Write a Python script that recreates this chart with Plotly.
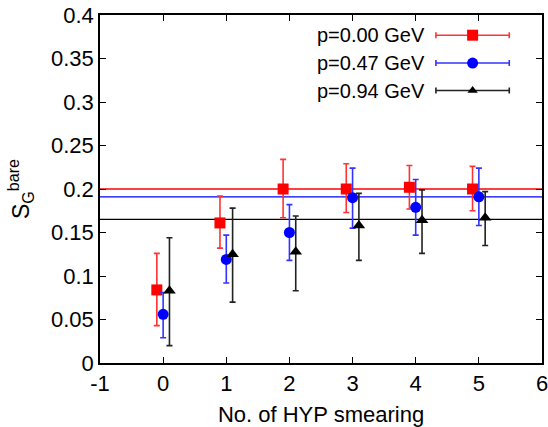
import plotly.graph_objects as go

# données
n_smear = [0, 1, 2, 3, 4, 5]
offsets = [-0.1, 0.0, 0.1]
labels = ["p=0.00 GeV", "p=0.47 GeV", "p=0.94 GeV"]

sg_p000 = [0.084, 0.161, 0.200, 0.200, 0.202, 0.200]
up_p000 = [0.126, 0.192, 0.234, 0.229, 0.227, 0.226]
lo_p000 = [0.043, 0.132, 0.167, 0.173, 0.177, 0.175]

sg_p047 = [0.056, 0.119, 0.150, 0.190, 0.179, 0.191]
up_p047 = [0.081, 0.147, 0.182, 0.224, 0.211, 0.224]
lo_p047 = [0.029, 0.092, 0.118, 0.155, 0.147, 0.158]

sg_p094 = [0.083, 0.125, 0.128, 0.158, 0.164, 0.167]
up_p094 = [0.144, 0.178, 0.169, 0.195, 0.199, 0.197]
lo_p094 = [0.020, 0.070, 0.083, 0.118, 0.126, 0.135]

fit_values = [0.200, 0.191, 0.165]

x_ticks = [-1, 0, 1, 2, 3, 4, 5, 6]
x_ticktext = ["-1", "0", "1", "2", "3", "4", "5", "6"]
y_ticks = [0, 0.05, 0.1, 0.15, 0.2, 0.25, 0.3, 0.35, 0.4]
y_ticktext = ["0", "0.05", "0.1", "0.15", "0.2", "0.25", "0.3", "0.35", "0.4"]

colors = ["#ff0000", "#0000ff", "#000000"]
bar_colors = ["#ff3333", "#3333ff", "#222222"]
symbols = ["square", "circle", "triangle-up"]

series = [
    (sg_p000, up_p000, lo_p000),
    (sg_p047, up_p047, lo_p047),
    (sg_p094, up_p094, lo_p094),
]

fig = go.Figure()

# lignes horizontales (valeurs plateau)
for val, c in zip(fit_values, colors):
    fig.add_trace(go.Scatter(
        x=[-1, 6], y=[val, val], mode="lines",
        line=dict(color=c, width=1.3), showlegend=False, hoverinfo="skip"
    ))

for (vals, up, lo), off, c, bc, sym in zip(series, offsets, colors, bar_colors, symbols):
    fig.add_trace(go.Scatter(
        x=[n + off for n in n_smear],
        y=vals,
        mode="markers",
        marker=dict(symbol=sym, size=11, color=c),
        error_y=dict(
            type="data", symmetric=False,
            array=[u - v for u, v in zip(up, vals)],
            arrayminus=[v - l for v, l in zip(vals, lo)],
            color=bc, thickness=1.6, width=3
        ),
        showlegend=False
    ))

# légende façon gnuplot (texte à gauche, symbole à droite)
leg_y = [0.942, 0.862, 0.783]
for lab, ly, c, bc, sym in zip(labels, leg_y, colors, bar_colors, symbols):
    fig.add_trace(go.Scatter(
        x=[0.843], y=[ly], xaxis="x2", yaxis="y2", mode="markers",
        marker=dict(symbol=sym, size=11 if sym != "triangle-up" else 9, color=c),
        error_x=dict(type="constant", value=0.083, color=bc, thickness=1.6, width=3),
        showlegend=False, hoverinfo="skip"
    ))
    fig.add_annotation(
        x=0.739, y=ly, xref="x2", yref="y2", text=lab, showarrow=False,
        xanchor="right", yanchor="middle", font=dict(size=20, color="black")
    )

axis_common = dict(
    showline=True, linecolor="black", linewidth=1.5, mirror="ticks",
    ticks="inside", ticklen=6, tickcolor="black", showgrid=False, zeroline=False,
    tickfont=dict(size=22, color="black"), automargin=False,
    ticklabeloverflow="allow"
)

fig.update_layout(
    width=548, height=427,
    margin=dict(l=100, r=6, t=15, b=64),
    plot_bgcolor="white", paper_bgcolor="white",
    font=dict(family="Liberation Sans, Arial, sans-serif", color="black"),
    xaxis=dict(range=[-1, 6], tickvals=x_ticks, ticktext=x_ticktext,
               title=dict(text="No. of HYP smearing", font=dict(size=22)),
               **axis_common),
    yaxis=dict(range=[0, 0.4], tickvals=y_ticks, ticktext=y_ticktext,
               title=dict(text="S<sub>G</sub><sup>bare</sup>", font=dict(size=23)),
               **axis_common),
    xaxis2=dict(range=[0, 1], overlaying="x", visible=False),
    yaxis2=dict(range=[0, 1], overlaying="y", visible=False),
)

# marge du body à zéro pour que la figure occupe toute la fenêtre
fig.write_html("out.html", config={"displayModeBar": False},
               post_script="document.body.style.margin='0';")
